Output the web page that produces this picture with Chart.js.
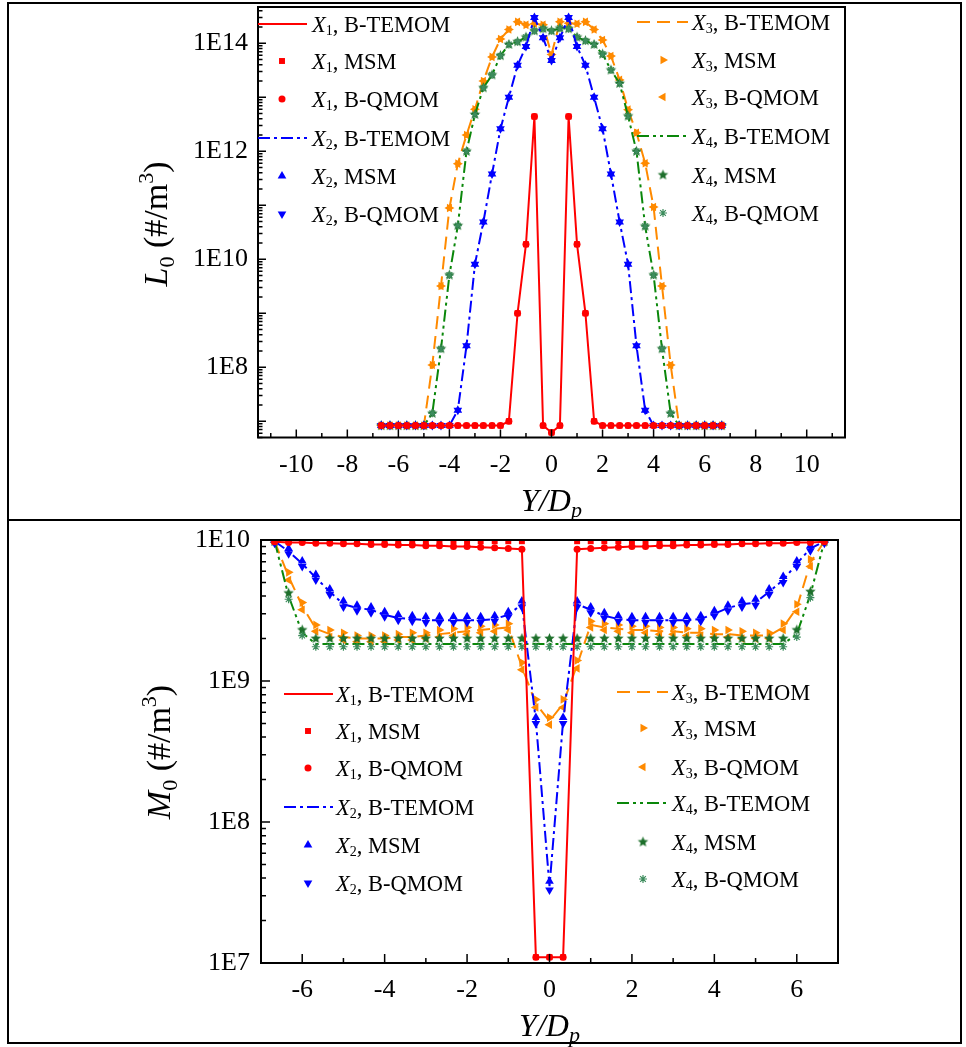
<!DOCTYPE html>
<html>
<head>
<meta charset="utf-8">
<title>L0 and M0 profiles</title>
<script src="https://cdn.jsdelivr.net/npm/chart.js@4.4.1/dist/chart.umd.min.js"></script>
<style>
  body { margin: 0; background: #fff; }
  #page { position: relative; width: 966px; height: 1047px; overflow: hidden; }
  #page canvas { position: absolute; left: 0; }
  #topChart { top: 0; }
  #bottomChart { top: 520px; }
  .rule { position: absolute; background: #000; }
</style>
</head>
<body>
<div id="page">
  <canvas id="topChart" width="966" height="520"></canvas>
  <canvas id="bottomChart" width="966" height="527"></canvas>
  <div class="rule" style="left:7px;top:2px;width:955px;height:2px"></div>
  <div class="rule" style="left:7px;top:1042px;width:955px;height:2px"></div>
  <div class="rule" style="left:7px;top:2px;width:2px;height:1042px"></div>
  <div class="rule" style="left:960px;top:2px;width:2px;height:1042px"></div>
  <div class="rule" style="left:7px;top:519px;width:955px;height:2px"></div>
</div>
<script>
// Y/Dp grid points (same for every series)
const yPos = [-6.67, -6.33, -6, -5.67, -5.33, -5, -4.67, -4.33, -4, -3.67,
  -3.33, -3, -2.67, -2.33, -2, -1.67, -1.33, -1, -0.67, -0.33,
  0,
  0.33, 0.67, 1, 1.33, 1.67, 2, 2.33, 2.67, 3, 3.33,
  3.67, 4, 4.33, 4.67, 5, 5.33, 5.67, 6, 6.33, 6.67];

// top panel, L0 (#/m3) - markers sit on the B-TEMOM curves
const l0X1 = [8.3e6, 8.3e6, 8.3e6, 8.3e6, 8.3e6, 8.3e6, 8.3e6, 8.3e6, 8.3e6, 8.3e6,
  8.3e6, 8.3e6, 8.3e6, 8.3e6, 8.3e6, 1.0e7, 1.0e9, 1.9e10, 4.4e12, 8.3e6,
  6.2e6,
  8.3e6, 4.4e12, 1.9e10, 1.0e9, 1.0e7, 8.3e6, 8.3e6, 8.3e6, 8.3e6, 8.3e6,
  8.3e6, 8.3e6, 8.3e6, 8.3e6, 8.3e6, 8.3e6, 8.3e6, 8.3e6, 8.3e6, 8.3e6];
const l0X2 = [8.3e6, 8.3e6, 8.3e6, 8.3e6, 8.3e6, 8.3e6, 8.3e6, 8.3e6, 8.3e6, 1.6e7,
  2.5e8, 8.1e9, 4.9e10, 3.8e11, 2.6e12, 1.0e13, 3.9e13, 8.7e13, 3.0e14, 1.26e14,
  4.8e13,
  1.26e14, 3.0e14, 8.7e13, 3.9e13, 1.0e13, 2.6e12, 3.8e11, 4.9e10, 8.1e9, 2.5e8,
  1.6e7, 8.3e6, 8.3e6, 8.3e6, 8.3e6, 8.3e6, 8.3e6, 8.3e6, 8.3e6, 8.3e6];
const l0X3 = [8.3e6, 8.3e6, 8.3e6, 8.3e6, 8.3e6, 8.3e6, 1.1e8, 3.2e9, 8.9e10, 5.9e11,
  2.0e12, 6.0e12, 2.0e13, 5.6e13, 1.2e14, 1.8e14, 2.5e14, 2.2e14, 2.3e14, 2.2e14,
  6.2e13,
  2.5e14, 2.35e14, 2.3e14, 2.5e14, 1.8e14, 1.15e14, 5.8e13, 2.1e13, 5.9e12, 2.2e12,
  6.0e11, 9.3e10, 3.2e9, 1.1e8, 8.3e6, 8.3e6, 8.3e6, 8.3e6, 8.3e6, 8.3e6];
const l0X4 = [8.3e6, 8.3e6, 8.3e6, 8.3e6, 8.3e6, 8.3e6, 1.4e7, 2.2e8, 5.1e9, 4.2e10,
  1.0e12, 4.8e12, 1.5e13, 2.6e13, 5.9e13, 9.5e13, 1.07e14, 1.3e14, 1.7e14, 1.86e14,
  1.7e14,
  1.9e14, 1.86e14, 1.3e14, 1.12e14, 9.5e13, 6.3e13, 3.2e13, 1.8e13, 4.5e12, 1.0e12,
  4.1e10, 5.1e9, 2.2e8, 1.4e7, 8.3e6, 8.3e6, 8.3e6, 8.3e6, 8.3e6, 8.3e6];

// bottom panel, M0 (#/m3)
const m0X1 = [9.7e9, 9.6e9, 9.6e9, 9.5e9, 9.5e9, 9.4e9, 9.4e9, 9.3e9, 9.3e9, 9.2e9,
  9.2e9, 9.1e9, 9.1e9, 9.0e9, 9.0e9, 8.9e9, 8.8e9, 8.7e9, 8.6e9, 1.1e7,
  1.1e7,
  1.1e7, 8.6e9, 8.7e9, 8.8e9, 8.9e9, 9.0e9, 9.0e9, 9.1e9, 9.1e9, 9.2e9,
  9.2e9, 9.3e9, 9.3e9, 9.4e9, 9.4e9, 9.5e9, 9.5e9, 9.6e9, 9.6e9, 9.7e9];
const m0X1Msm = [9.8e9, 9.8e9, 9.8e9, 9.8e9, 9.8e9, 9.8e9, 9.8e9, 9.8e9, 9.8e9, 9.8e9,
  9.8e9, 9.8e9, 9.8e9, 9.8e9, 9.8e9, 9.8e9, 9.8e9, 9.8e9, 9.8e9, 1.1e7,
  1.1e7,
  1.1e7, 9.8e9, 9.8e9, 9.8e9, 9.8e9, 9.8e9, 9.8e9, 9.8e9, 9.8e9, 9.8e9,
  9.8e9, 9.8e9, 9.8e9, 9.8e9, 9.8e9, 9.8e9, 9.8e9, 9.8e9, 9.8e9, 9.8e9];
const m0X2 = [9.8e9, 8.3e9, 6.8e9, 5.4e9, 4.3e9, 3.5e9, 3.3e9, 3.2e9, 2.95e9, 2.8e9,
  2.75e9, 2.7e9, 2.7e9, 2.7e9, 2.7e9, 2.7e9, 2.75e9, 2.95e9, 3.5e9, 5.2e8,
  3.5e7,
  5.2e8, 3.5e9, 3.2e9, 2.9e9, 2.75e9, 2.7e9, 2.7e9, 2.7e9, 2.7e9, 2.7e9,
  2.75e9, 3.0e9, 3.3e9, 3.5e9, 3.6e9, 4.3e9, 5.2e9, 6.8e9, 8.7e9, 9.8e9];
const m0X2Msm = [1.0e10, 8.7e9, 7.1e9, 5.7e9, 4.5e9, 3.7e9, 3.45e9, 3.35e9, 3.1e9, 2.95e9,
  2.9e9, 2.85e9, 2.85e9, 2.85e9, 2.85e9, 2.85e9, 2.9e9, 3.1e9, 3.7e9, 5.5e8,
  3.8e7,
  5.5e8, 3.7e9, 3.35e9, 3.05e9, 2.9e9, 2.85e9, 2.85e9, 2.85e9, 2.85e9, 2.85e9,
  2.9e9, 3.15e9, 3.45e9, 3.7e9, 3.8e9, 4.5e9, 5.5e9, 7.1e9, 9.1e9, 1.0e10];
const m0X2Qmom = [9.5e9, 8.0e9, 6.5e9, 5.2e9, 4.1e9, 3.35e9, 3.15e9, 3.05e9, 2.85e9, 2.7e9,
  2.65e9, 2.6e9, 2.6e9, 2.6e9, 2.6e9, 2.6e9, 2.65e9, 2.85e9, 3.35e9, 5.0e8,
  3.3e7,
  5.0e8, 3.35e9, 3.05e9, 2.8e9, 2.65e9, 2.6e9, 2.6e9, 2.6e9, 2.6e9, 2.6e9,
  2.65e9, 2.9e9, 3.15e9, 3.35e9, 3.45e9, 4.1e9, 5.0e9, 6.5e9, 8.4e9, 9.5e9];
const m0X3 = [9.8e9, 5.5e9, 3.4e9, 2.35e9, 2.15e9, 2.05e9, 2.0e9, 2.0e9, 2.0e9, 2.05e9,
  2.05e9, 2.1e9, 2.15e9, 2.2e9, 2.25e9, 2.3e9, 2.35e9, 2.4e9, 1.26e9, 6.9e8,
  5.2e8,
  6.9e8, 1.3e9, 2.5e9, 2.4e9, 2.35e9, 2.3e9, 2.3e9, 2.25e9, 2.25e9, 2.2e9,
  2.2e9, 2.15e9, 2.15e9, 2.1e9, 2.1e9, 2.1e9, 2.4e9, 3.3e9, 6.9e9, 9.8e9];
const m0X3Msm = [9.9e9, 5.9e9, 3.6e9, 2.5e9, 2.3e9, 2.2e9, 2.1e9, 2.1e9, 2.1e9, 2.15e9,
  2.2e9, 2.2e9, 2.3e9, 2.35e9, 2.4e9, 2.45e9, 2.5e9, 2.55e9, 1.35e9, 7.4e8,
  5.5e8,
  7.4e8, 1.4e9, 2.65e9, 2.55e9, 2.5e9, 2.45e9, 2.45e9, 2.4e9, 2.4e9, 2.35e9,
  2.35e9, 2.3e9, 2.3e9, 2.25e9, 2.2e9, 2.2e9, 2.55e9, 3.5e9, 7.3e9, 9.9e9];
const m0X3Qmom = [9.6e9, 5.2e9, 3.2e9, 2.25e9, 2.05e9, 1.95e9, 1.9e9, 1.9e9, 1.9e9, 1.95e9,
  1.95e9, 2.0e9, 2.05e9, 2.1e9, 2.15e9, 2.2e9, 2.25e9, 2.3e9, 1.2e9, 6.5e8,
  4.9e8,
  6.5e8, 1.23e9, 2.4e9, 2.3e9, 2.25e9, 2.2e9, 2.2e9, 2.15e9, 2.15e9, 2.1e9,
  2.1e9, 2.05e9, 2.05e9, 2.0e9, 2.0e9, 2.0e9, 2.3e9, 3.1e9, 6.5e9, 9.6e9];
const m0X4 = [9.8e9, 4.0e9, 2.2e9, 1.83e9, 1.83e9, 1.83e9, 1.83e9, 1.83e9, 1.83e9, 1.83e9,
  1.83e9, 1.83e9, 1.83e9, 1.83e9, 1.83e9, 1.83e9, 1.83e9, 1.83e9, 1.83e9, 1.83e9,
  1.83e9,
  1.83e9, 1.83e9, 1.83e9, 1.83e9, 1.83e9, 1.83e9, 1.83e9, 1.83e9, 1.83e9, 1.83e9,
  1.83e9, 1.83e9, 1.83e9, 1.83e9, 1.83e9, 1.83e9, 1.83e9, 2.15e9, 4.1e9, 9.8e9];
const m0X4Msm = [9.8e9, 4.2e9, 2.3e9, 2.0e9, 2.0e9, 2.0e9, 2.0e9, 2.0e9, 2.0e9, 2.0e9,
  2.0e9, 2.0e9, 2.0e9, 2.0e9, 2.0e9, 2.0e9, 2.0e9, 2.0e9, 2.0e9, 2.0e9,
  2.0e9,
  2.0e9, 2.0e9, 2.0e9, 2.0e9, 2.0e9, 2.0e9, 2.0e9, 2.0e9, 2.0e9, 2.0e9,
  2.0e9, 2.0e9, 2.0e9, 2.0e9, 2.0e9, 2.0e9, 2.0e9, 2.3e9, 4.3e9, 9.8e9];
const m0X4Qmom = [9.6e9, 3.8e9, 2.1e9, 1.75e9, 1.75e9, 1.75e9, 1.75e9, 1.75e9, 1.75e9, 1.75e9,
  1.75e9, 1.75e9, 1.75e9, 1.75e9, 1.75e9, 1.75e9, 1.75e9, 1.75e9, 1.75e9, 1.75e9,
  1.75e9,
  1.75e9, 1.75e9, 1.75e9, 1.75e9, 1.75e9, 1.75e9, 1.75e9, 1.75e9, 1.75e9, 1.75e9,
  1.75e9, 1.75e9, 1.75e9, 1.75e9, 1.75e9, 1.75e9, 1.75e9, 2.05e9, 3.9e9, 9.6e9];

// tick labels
const l0Ticks = [1e8, 1e10, 1e12, 1e14];
const m0Ticks = [1e7, 1e8, 1e9, 1e10];
const topXTicks = [-10, -8, -6, -4, -2, 0, 2, 4, 6, 8, 10];
const bottomXTicks = [-6, -4, -2, 0, 2, 4, 6];

const serif = '"Liberation Serif", "Times New Roman", Times, serif';
Chart.defaults.font.family = serif;
Chart.defaults.color = '#000';

const RED = '#ff0000', BLUE = '#0000ff', ORANGE = '#ff8a00', GREEN = '#0a870a';

// filled five point star for X4 MSM
function makeStar(color, r) {
  const c = document.createElement('canvas');
  const s = Math.ceil(r * 2) + 2;
  c.width = s; c.height = s;
  const g = c.getContext('2d');
  g.fillStyle = color;
  g.beginPath();
  for (let i = 0; i < 10; i++) {
    const rad = i % 2 ? r * 0.45 : r;
    const ang = -Math.PI / 2 + i * Math.PI / 5;
    const px = s / 2 + rad * Math.cos(ang), py = s / 2 + rad * Math.sin(ang);
    if (i) g.lineTo(px, py); else g.moveTo(px, py);
  }
  g.closePath();
  g.fill();
  return c;
}
const starMark = makeStar('#1d6f2b', 5.5);

const looks = [
  { num: '1', color: RED, dash: [], rank: 0,
    msm: { style: 'rect', rot: 0, r: 4.2 }, qmom: { style: 'circle', rot: 0, r: 3.5 } },
  { num: '2', color: BLUE, dash: [12, 4, 3, 4], rank: 1,
    msm: { style: 'triangle', rot: 0, r: 5 }, qmom: { style: 'triangle', rot: 180, r: 5 } },
  { num: '3', color: ORANGE, dash: [13, 7], rank: 3,
    msm: { style: 'triangle', rot: 90, r: 5 }, qmom: { style: 'triangle', rot: -90, r: 5 } },
  { num: '4', color: GREEN, dash: [12, 4, 3, 4, 3, 4], rank: 2,
    msm: { style: starMark, rot: 0, r: 5, color: '#1d6f2b' }, qmom: { style: 'star', rot: 0, r: 4, color: '#3c8c5c' } }
];

function pts(arr) {
  return yPos.map((x, i) => ({ x: x, y: arr[i] }));
}

function buildDatasets(lineSets, msmSets, qmomSets) {
  const out = [];
  looks.forEach((lk, i) => {
    out.push({
      label: 'X' + lk.num + ', B-TEMOM', num: lk.num, method: 'B-TEMOM',
      data: pts(lineSets[i]), borderColor: lk.color, backgroundColor: lk.color,
      borderWidth: 2, borderDash: lk.dash, pointRadius: 0, tension: 0, fill: false,
      order: lk.rank * 3 + 2
    });
    [['MSM', lk.msm, msmSets[i], 1], ['B-QMOM', lk.qmom, qmomSets[i], 0]].forEach(([m, mk, arr, o]) => {
      const c = mk.color || lk.color;
      out.push({
        label: 'X' + lk.num + ', ' + m, num: lk.num, method: m,
        data: pts(arr), showLine: false,
        pointStyle: mk.style, pointRotation: mk.rot, pointRadius: mk.r,
        pointBorderWidth: mk.style === 'star' ? 1.2 : 0,
        backgroundColor: c, borderColor: c, pointBackgroundColor: c, pointBorderColor: c,
        order: lk.rank * 3 + o
      });
    });
  });
  return out;
}

function richText(ctx, parts, x, y, align) {
  let w = 0;
  const sized = parts.map(p => {
    ctx.font = p.f + ' ' + serif;
    const pw = ctx.measureText(p.t).width;
    w += pw;
    return { t: p.t, f: p.f, dy: p.dy || 0, w: pw };
  });
  let cx = align === 'center' ? x - w / 2 : x;
  ctx.fillStyle = '#000';
  ctx.textAlign = 'left';
  ctx.textBaseline = 'alphabetic';
  sized.forEach(p => {
    ctx.font = p.f + ' ' + serif;
    ctx.fillText(p.t, cx, y + p.dy);
    cx += p.w;
  });
}

function drawMark(ctx, ds, x, y) {
  ctx.save();
  ctx.fillStyle = ds.backgroundColor;
  ctx.strokeStyle = ds.borderColor;
  ctx.lineWidth = ds.pointBorderWidth;
  const h = Chart.helpers;
  if (h && h.drawPoint) {
    h.drawPoint(ctx, { pointStyle: ds.pointStyle, rotation: ds.pointRotation,
      radius: ds.pointRadius, borderWidth: ds.pointBorderWidth }, x, y);
  } else {
    ctx.beginPath();
    ctx.arc(x, y, ds.pointRadius, 0, Math.PI * 2);
    ctx.fill();
  }
  ctx.restore();
}

// frame, inward ticks, legend and axis titles
function makeDecor(cfg) {
  return {
    id: 'decor',
    afterDraw(chart) {
      const { ctx, chartArea: a } = chart;
      const xs = chart.scales.x, ys = chart.scales.y;
      ctx.save();
      ctx.strokeStyle = '#000';
      ctx.lineWidth = 2;
      ctx.strokeRect(a.left, a.top, a.right - a.left, a.bottom - a.top);

      ctx.lineWidth = 1.5;
      ctx.beginPath();
      for (let v = Math.ceil(xs.min); v <= Math.floor(xs.max); v++) {
        const px = xs.getPixelForValue(v);
        ctx.moveTo(px, a.bottom);
        ctx.lineTo(px, a.bottom - (v % 2 === 0 ? cfg.major : cfg.minor));
      }
      const e0 = Math.floor(Math.log10(ys.min)), e1 = Math.ceil(Math.log10(ys.max));
      for (let e = e0; e <= e1; e++) {
        for (let m = 1; m <= 9; m++) {
          const v = m * Math.pow(10, e);
          if (v < ys.min * 0.999 || v > ys.max * 1.001) continue;
          const py = ys.getPixelForValue(v);
          ctx.moveTo(a.left, py);
          ctx.lineTo(a.left + (m === 1 ? cfg.major : cfg.minor), py);
        }
      }
      ctx.stroke();

      cfg.legend.forEach(col => {
        col.items.forEach((di, r) => {
          const ds = chart.data.datasets[di];
          const y = col.rows[r];
          if (ds.showLine === false) {
            drawMark(ctx, ds, col.mx, y);
          } else {
            ctx.save();
            ctx.strokeStyle = ds.borderColor;
            ctx.lineWidth = 2;
            ctx.setLineDash(ds.borderDash);
            ctx.beginPath();
            ctx.moveTo(col.x0, y);
            ctx.lineTo(col.x1, y);
            ctx.stroke();
            ctx.restore();
          }
          richText(ctx, [
            { t: 'X', f: 'italic 22.5px' },
            { t: ds.num, f: '14px', dy: 3 },
            { t: ', ' + ds.method, f: '22.5px' }
          ], col.tx, y + 7.5, 'left');
        });
      });

      ctx.save();
      ctx.translate(cfg.yTitle.x, cfg.yTitle.y);
      ctx.rotate(-Math.PI / 2);
      richText(ctx, cfg.yTitle.parts, 0, 0, 'center');
      ctx.restore();
      richText(ctx, cfg.xTitle.parts, cfg.xTitle.x, cfg.xTitle.y, 'center');
      ctx.restore();
    }
  };
}

function xScale(min, max, labels, height, pad) {
  return {
    type: 'linear', min: min, max: max,
    afterBuildTicks: s => { s.ticks = labels.map(v => ({ value: v })); },
    afterFit: s => { s.height = height; s.paddingLeft = 0; s.paddingRight = 0; },
    ticks: { autoSkip: false, maxRotation: 0, padding: pad, color: '#000',
      font: { size: 26 }, callback: v => String(v) },
    grid: { display: false, drawTicks: false },
    border: { display: false }
  };
}

function yScale(min, max, labels, width, pad) {
  return {
    type: 'logarithmic', min: min, max: max,
    afterBuildTicks: s => { s.ticks = labels.map(v => ({ value: v })); },
    afterFit: s => { s.width = width; s.paddingTop = 0; s.paddingBottom = 0; },
    ticks: { autoSkip: false, padding: pad, color: '#000',
      font: { size: 26 }, callback: v => '1E' + Math.round(Math.log10(v)) },
    grid: { display: false, drawTicks: false },
    border: { display: false }
  };
}

const xTitleParts = [{ t: 'Y/D', f: 'italic 32px' }, { t: 'p', f: 'italic 22px', dy: 6 }];

new Chart(document.getElementById('topChart'), {
  type: 'line',
  data: { datasets: buildDatasets([l0X1, l0X2, l0X3, l0X4], [l0X1, l0X2, l0X3, l0X4], [l0X1, l0X2, l0X3, l0X4]) },
  options: {
    responsive: false, animation: false, events: [],
    layout: { padding: { left: 0, right: 121, top: 7, bottom: 0 } },
    plugins: { legend: { display: false }, tooltip: { enabled: false } },
    scales: {
      x: xScale(-11.5, 11.5, topXTicks, 82.5, 12),
      y: yScale(5e6, 4.7e14, l0Ticks, 258, 10)
    }
  },
  plugins: [makeDecor({
    major: 8, minor: 4.5,
    legend: [
      { x0: 258, x1: 307, mx: 282, tx: 312, rows: [24, 61, 99, 138, 176, 214], items: [0, 1, 2, 3, 4, 5] },
      { x0: 637, x1: 688, mx: 663, tx: 692, rows: [22, 60, 97, 136, 175, 213], items: [6, 7, 8, 9, 10, 11] }
    ],
    yTitle: { x: 167, y: 224, parts: [
      { t: 'L', f: 'italic 34px' }, { t: '0', f: '22px', dy: 7 },
      { t: ' (#/m', f: '34px' }, { t: '3', f: '22px', dy: -14 }, { t: ')', f: '34px' }] },
    xTitle: { x: 551.5, y: 511, parts: xTitleParts }
  })]
});

new Chart(document.getElementById('bottomChart'), {
  type: 'line',
  data: { datasets: buildDatasets([m0X1, m0X2, m0X3, m0X4], [m0X1Msm, m0X2Msm, m0X3Msm, m0X4Msm], [m0X1, m0X2Qmom, m0X3Qmom, m0X4Qmom]) },
  options: {
    responsive: false, animation: false, events: [],
    layout: { padding: { left: 0, right: 128, top: 20, bottom: 0 } },
    plugins: { legend: { display: false }, tooltip: { enabled: false } },
    scales: {
      x: xScale(-7, 7, bottomXTicks, 84, 12),
      y: yScale(1e7, 1e10, m0Ticks, 261, 11)
    }
  },
  plugins: [makeDecor({
    major: 9, minor: 5,
    legend: [
      { x0: 284, x1: 333, mx: 308, tx: 336, rows: [174, 211, 248, 287, 325, 363], items: [0, 1, 2, 3, 4, 5] },
      { x0: 617, x1: 668, mx: 643, tx: 672, rows: [172, 208, 247, 283, 322, 359], items: [6, 7, 8, 9, 10, 11] }
    ],
    yTitle: { x: 170, y: 232, parts: [
      { t: 'M', f: 'italic 34px' }, { t: '0', f: '22px', dy: 7 },
      { t: ' (#/m', f: '34px' }, { t: '3', f: '22px', dy: -14 }, { t: ')', f: '34px' }] },
    xTitle: { x: 549.5, y: 516, parts: xTitleParts }
  })]
});
</script>
</body>
</html>
